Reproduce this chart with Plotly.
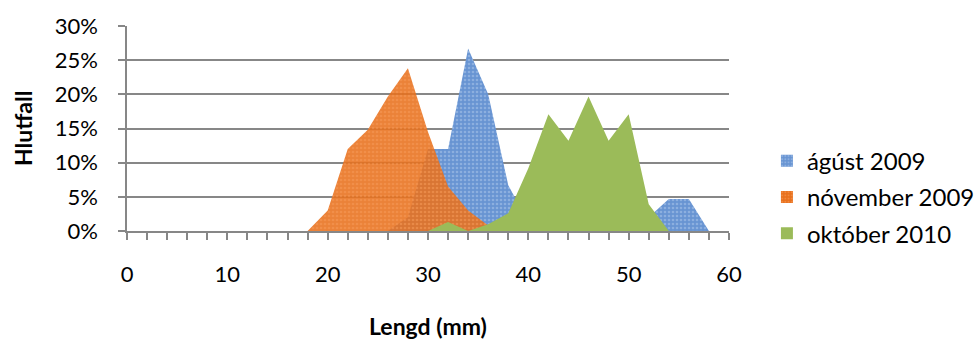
import plotly.graph_objects as go

lengths = list(range(0, 62, 2))
# values as fractions per 2 mm length bin (0, 2, 4, ..., 60 mm)
agust_2009 = [0, 0, 0, 0, 0, 0, 0, 0, 0, 0,          # 0-18
              0, 0, 0, 0, 0.02, 0.12, 0.12, 0.267, 0.20, 0.067,   # 20-38
              0.013, 0, 0, 0, 0, 0, 0.02, 0.047, 0.047, 0,   # 40-58
              0]                                       # 60
november_2009 = [0, 0, 0, 0, 0, 0, 0, 0, 0, 0,       # 0-18
                 0.03, 0.12, 0.148, 0.197, 0.238, 0.145, 0.065, 0.03, 0.008, 0,  # 20-38
                 0, 0, 0, 0, 0, 0, 0, 0, 0, 0,       # 40-58
                 0]
oktober_2010 = [0, 0, 0, 0, 0, 0, 0, 0, 0, 0,        # 0-18
                0, 0, 0, 0, 0, 0, 0.013, 0, 0.010, 0.026,   # 20-38
                0.092, 0.171, 0.132, 0.197, 0.132, 0.171, 0.039, 0, 0, 0,  # 40-58
                0]
series_names = ["ágúst 2009", "nóvember 2009", "október 2010"]

FONT = "Lato"
GRID = "#878787"

blue_pat = dict(shape=".", bgcolor="rgb(104,148,210)", fgcolor="rgb(175,202,236)",
                size=4, solidity=0.35)
orange_pat = dict(shape=".", bgcolor="rgba(232,112,28,0.88)", fgcolor="rgba(248,160,95,0.9)",
                  size=4, solidity=0.35)

fig = go.Figure()
fig.add_trace(go.Scatter(x=lengths, y=agust_2009, mode="lines", line=dict(width=0),
                         fill="tozeroy", fillpattern=blue_pat, showlegend=False,
                         hoverinfo="skip"))
fig.add_trace(go.Scatter(x=lengths, y=november_2009, mode="lines", line=dict(width=0),
                         fill="tozeroy", fillpattern=orange_pat, showlegend=False,
                         hoverinfo="skip"))
fig.add_trace(go.Scatter(x=lengths, y=oktober_2010, mode="lines", line=dict(width=0),
                         fill="tozeroy", fillcolor="rgb(155,187,89)", showlegend=False,
                         hoverinfo="skip"))

# legend entries (square swatches)
legend_markers = [
    dict(color="rgb(104,148,210)", pattern=dict(shape=".", fgcolor="rgb(175,202,236)", size=4, solidity=0.35)),
    dict(color="rgb(232,112,28)", pattern=dict(shape=".", fgcolor="rgb(248,160,95)", size=4, solidity=0.35)),
    dict(color="rgb(155,187,89)"),
]
for i, (nm, mk) in enumerate(zip(series_names, legend_markers)):
    fig.add_trace(go.Bar(x=[None], y=[None], name=nm, marker=dict(line=dict(width=0), **mk),
                         legendgroup=str(i), showlegend=True))

fig.update_layout(
    width=979, height=341,
    margin=dict(l=127, r=250, t=26, b=110, autoexpand=False),
    paper_bgcolor="white", plot_bgcolor="white",
    font=dict(family=FONT, size=22, color="#000000"),
    legend=dict(x=1.063, xanchor="left", y=0.165, yanchor="middle",
                traceorder="grouped", tracegroupgap=2,
                font=dict(family=FONT, size=24, color="#000000"),
                bgcolor="rgba(0,0,0,0)"),
    xaxis=dict(range=[0, 60], dtick=10, tick0=0, showgrid=False, zeroline=False,
               showline=True, linecolor=GRID, linewidth=1.5,
               ticks="outside", ticklen=7, tickcolor=GRID, tickwidth=1.5,
               minor=dict(dtick=2, ticks="outside", ticklen=7, tickcolor=GRID, tickwidth=1.5),
               ticklabelstandoff=16, fixedrange=True),
    yaxis=dict(range=[0, 0.30], dtick=0.05, tick0=0, tickformat=".0%",
               showgrid=True, gridcolor=GRID, gridwidth=1.5, zeroline=False,
               showline=True, linecolor=GRID, linewidth=1.5,
               ticks="outside", ticklen=7, tickcolor=GRID, tickwidth=1.5,
               ticklabelstandoff=16, fixedrange=True),
    annotations=[
        dict(text="<b>Lengd (mm)</b>", xref="paper", yref="paper", x=0.5, y=-0.463,
             xanchor="center", yanchor="middle", showarrow=False,
             font=dict(family=FONT, size=23, color="#000000")),
        dict(text="<b>Hlutfall</b>", xref="paper", yref="paper", x=-0.1728, y=0.502,
             xanchor="center", yanchor="middle", showarrow=False, textangle=-90,
             font=dict(family=FONT, size=23, color="#000000")),
    ],
)

fig.write_html("out.html")
